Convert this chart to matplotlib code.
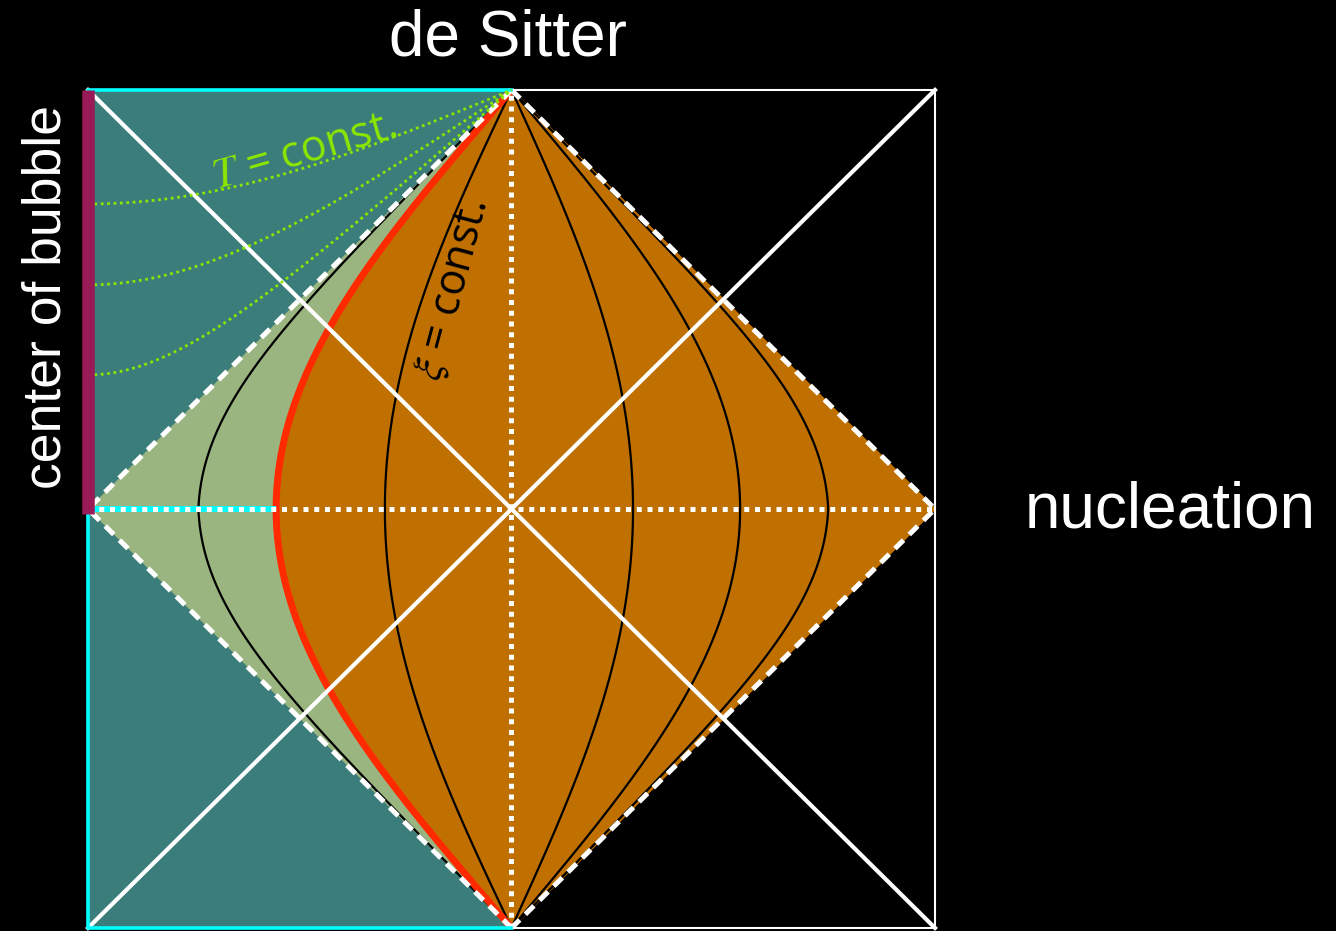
import numpy as np
import matplotlib
matplotlib.use("Agg")
import matplotlib.pyplot as plt

# ---------------- data (diagram coordinates: square [-1,1] x [-1,1]) ----------------
xi_values = [-0.743, -0.299, 0.287, 0.540, 0.752]   # xi = const curves (x where they cross y = 0)
wall_value = -0.556                                  # bubble wall (red curve), x at y = 0
T_values = [0.728, 0.535, 0.320]                     # T = const slices, height where they leave the pole
labels = {"top": "de Sitter", "right": "nucleation", "left": "center of bubble"}

# ---------------- colours ----------------
TEAL = "#3B7D7B"
GREEN = "#9AB57F"
ORANGE = "#C07000"
RED = "#FF2A00"
LIME = "#8BE600"
CYAN = "#00FFFF"
MAGENTA = "#981A57"

plt.rcParams["mathtext.fontset"] = "stix"

fig = plt.figure(figsize=(13.36, 9.31), dpi=100, facecolor="black")
ax = fig.add_axes([0, 0, 1, 1])
ax.set_facecolor("black")
ax.set_xlim(-1.2078, 1.9469)
ax.set_ylim(-1.0072, 1.2148)
ax.axis("off")


def xi_curve(x0, n=10, m=1200):
    """constant-xi curve through both vertices of the causal diamond"""
    y = np.linspace(-1, 1, m)
    yy = y[1:-1]
    a = abs(x0) * np.cos(np.pi * yy / 2)
    b = 1 - np.abs(yy)
    x = (a ** -n + b ** -n) ** (-1.0 / n)
    x = np.concatenate([[0.0], x, [0.0]]) * np.sign(x0)
    return x, y


def T_curve(y0, m=600):
    """open-slicing constant-T curve: cos(eta) = cos(chi) / cosh(T)"""
    C = 1.0 / np.cos(np.pi * y0 / 2)
    chi = np.linspace(0, np.pi / 2, m)
    eta = np.arccos(np.clip(np.cos(chi) / C, -1, 1))
    return 2 * chi / np.pi - 1, 2 * eta / np.pi


# teal left half
ax.fill([-1, 0, 0, -1], [-1, -1, 1, 1], color=TEAL, zorder=1, lw=0)

# wall
xw, yw = xi_curve(wall_value)
# green: left diamond part, left of wall
ax.fill(np.concatenate([[0, -1, 0], xw]), np.concatenate([[1, 0, -1], yw]),
        color=GREEN, lw=0, zorder=2)
# orange: right of wall up to the right diamond edges
ax.fill(np.concatenate([[0, 1, 0], xw]), np.concatenate([[1, 0, -1], yw]),
        facecolor=ORANGE, edgecolor=ORANGE, lw=1.5, zorder=2)

# xi = const curves
for v in xi_values:
    xc, yc = xi_curve(v)
    ax.plot(xc, yc, color="black", lw=1.6, zorder=3)

# red wall
ax.plot(xw, yw, color=RED, lw=5, zorder=4, solid_capstyle="butt")

# cyan under horizontal dotted line (inside the bubble)
ax.plot([-1, wall_value], [0, 0], color=CYAN, lw=4.3, zorder=5, solid_capstyle="butt")

# dotted white axes
dot = (0, (1, 1.15))
ax.plot([-1, 1], [0, 0], color="white", lw=3.6, ls=dot, dash_capstyle="butt", zorder=6)
ax.plot([0, 0], [-1, 1], color="white", lw=3.6, ls=dot, dash_capstyle="butt", zorder=6)

# dashed diamond edges
dash = (0, (2.4, 1.6))
ax.plot([0, -1, 0], [1, 0, -1], color="white", lw=3.6, ls=dash, dash_capstyle="butt", zorder=6)
ax.plot([0, 1, 0], [1, 0, -1], color="white", lw=3.6, ls=dash, dash_capstyle="butt", zorder=6)

# diagonals
ax.plot([-1, 1], [1, -1], color="white", lw=3, zorder=7)
ax.plot([-1, 1], [-1, 1], color="white", lw=3, zorder=7)

# square outline
ax.plot([-1, 1, 1, -1, -1], [1, 1, -1, -1, 1], color="white", lw=1.5, zorder=7)
ax.plot([0, -1, -1, 0], [1, 1, -1, -1], color=CYAN, lw=2.6, zorder=7)

# T = const curves
for v in T_values:
    xt, yt = T_curve(v)
    ax.plot(xt, yt, color=LIME, lw=2.0, ls=(0, (1, 1.3)), dash_capstyle="butt", zorder=8)

# center of bubble (pole)
ax.plot([-1, -1], [-0.013, 1.0], color=MAGENTA, lw=9, solid_capstyle="butt", zorder=9)

# labels
ax.text(-0.49, 0.852, r"$T$ = const.", color=LIME, fontsize=31, family="Open Sans",
        fontweight="medium", rotation=16, ha="center", va="center",
        rotation_mode="anchor", zorder=10)
ax.text(-0.14, 0.523, r"$\xi$ = const.", color="black", fontsize=31, family="Open Sans",
        fontweight="medium", rotation=75, ha="center", va="center",
        rotation_mode="anchor", zorder=10)

ax.text(-0.008, 1.0835, labels["top"], color="white", fontsize=46, family="Liberation Sans",
        ha="center", va="baseline", zorder=10)
ax.text(1.555, -0.043, labels["right"], color="white", fontsize=46, family="Liberation Sans",
        ha="center", va="baseline", zorder=10)
ax.text(-1.0638, 0.5048, labels["left"], color="white", fontsize=38.5, family="Liberation Sans",
        ha="center", va="baseline", rotation=90, rotation_mode="anchor", zorder=10)

fig.savefig("out.png", dpi=100, facecolor="black")
